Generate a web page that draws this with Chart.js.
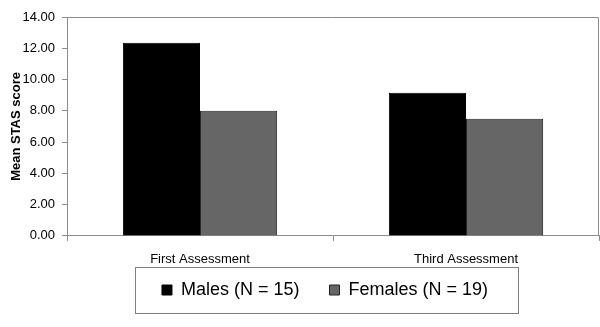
<!DOCTYPE html>
<html>
<head>
<meta charset="utf-8">
<script src="https://cdn.jsdelivr.net/npm/chart.js@4/dist/chart.umd.min.js"></script>
<style>
  html, body { margin: 0; padding: 0; background: #fff; }
  #wrap { width: 600px; height: 327px; }
</style>
</head>
<body>
<div id="wrap"><canvas id="c" width="600" height="327"></canvas></div>
<script>
const categories = ["First Assessment", "Third Assessment"];
const seriesNames = ["Males (N = 15)", "Females (N = 19)"];
const malesValues = [12.35, 9.15];
const femalesValues = [8.0, 7.5];
const yTicks = [0, 2, 4, 6, 8, 10, 12, 14];
const yTitle = "Mean STAS score";

const FONT = 'Arial, "Liberation Sans", sans-serif';

const frame = {
  id: 'frame',
  afterLayout(chart) {
    // place the legend as in the reference (a little left and up)
    const lg = chart.legend;
    lg.left -= 8; lg.right -= 8;
    lg.top -= 27.5; lg.bottom -= 27.5;
  },
  afterDraw(chart) {
    const ctx = chart.ctx;
    const a = chart.chartArea;
    ctx.save();
    ctx.strokeStyle = '#8c8c8c';
    ctx.lineWidth = 1;
    ctx.beginPath();
    ctx.moveTo(a.left, a.top + 0.5);
    ctx.lineTo(a.right - 0.5, a.top + 0.5);
    ctx.lineTo(a.right - 0.5, a.bottom);
    ctx.stroke();
    const boxes = chart.legend.legendHitBoxes;
    if (boxes && boxes.length) {
      let minX = Infinity, maxX = -Infinity, minY = Infinity, maxY = -Infinity;
      boxes.forEach(b => {
        minX = Math.min(minX, b.left); maxX = Math.max(maxX, b.left + b.width);
        minY = Math.min(minY, b.top); maxY = Math.max(maxY, b.top + b.height);
      });
      const cy = (minY + maxY) / 2;
      ctx.strokeStyle = '#808080';
      const x0 = Math.round(minX - 27), x1 = Math.round(maxX + 30);
      ctx.strokeRect(x0 + 0.5, Math.round(cy - 23) + 0.5, x1 - x0, 46);
    }
    ctx.restore();
  }
};

new Chart(document.getElementById('c'), {
  type: 'bar',
  data: {
    labels: categories,
    datasets: [
      { label: seriesNames[0], data: malesValues, backgroundColor: '#000000', borderColor: '#000000', borderWidth: 1 },
      { label: seriesNames[1], data: femalesValues, backgroundColor: '#666666', borderColor: '#222222', borderWidth: 1 }
    ]
  },
  options: {
    responsive: false,
    animation: false,
    devicePixelRatio: 1,
    layout: { padding: { top: 17, right: 1, left: 6, bottom: -9.5 } },
    datasets: { bar: { categoryPercentage: 0.58, barPercentage: 1.0 } },
    plugins: {
      legend: {
        position: 'bottom',
        fullSize: false,
        labels: {
          boxWidth: 10, boxHeight: 10, padding: 30,
          color: '#000', font: { family: FONT, size: 18 }
        }
      },
      tooltip: { enabled: false }
    },
    scales: {
      x: {
        grid: { display: true, offset: true, drawOnChartArea: false, drawTicks: true, tickLength: 5, color: '#8c8c8c' },
        border: { display: true, color: '#8c8c8c' },
        ticks: { color: '#000', font: { family: FONT, size: 13 }, padding: 11 }
      },
      y: {
        min: 0, max: 14,
        afterBuildTicks(axis) { axis.ticks = yTicks.map(v => ({ value: v })); },
        grid: { display: true, drawOnChartArea: false, drawTicks: true, tickLength: 5, color: '#8c8c8c' },
        border: { display: true, color: '#8c8c8c' },
        ticks: {
          color: '#000', padding: 7,
          font: { family: FONT, size: 13 },
          callback: v => Number(v).toFixed(2)
        },
        title: { display: true, text: yTitle, color: '#000', padding: { top: 3.5, bottom: -7 },
          font: { family: FONT, size: 13, weight: 'bold', lineHeight: 1 } }
      }
    }
  },
  plugins: [frame]
});
</script>
</body>
</html>
